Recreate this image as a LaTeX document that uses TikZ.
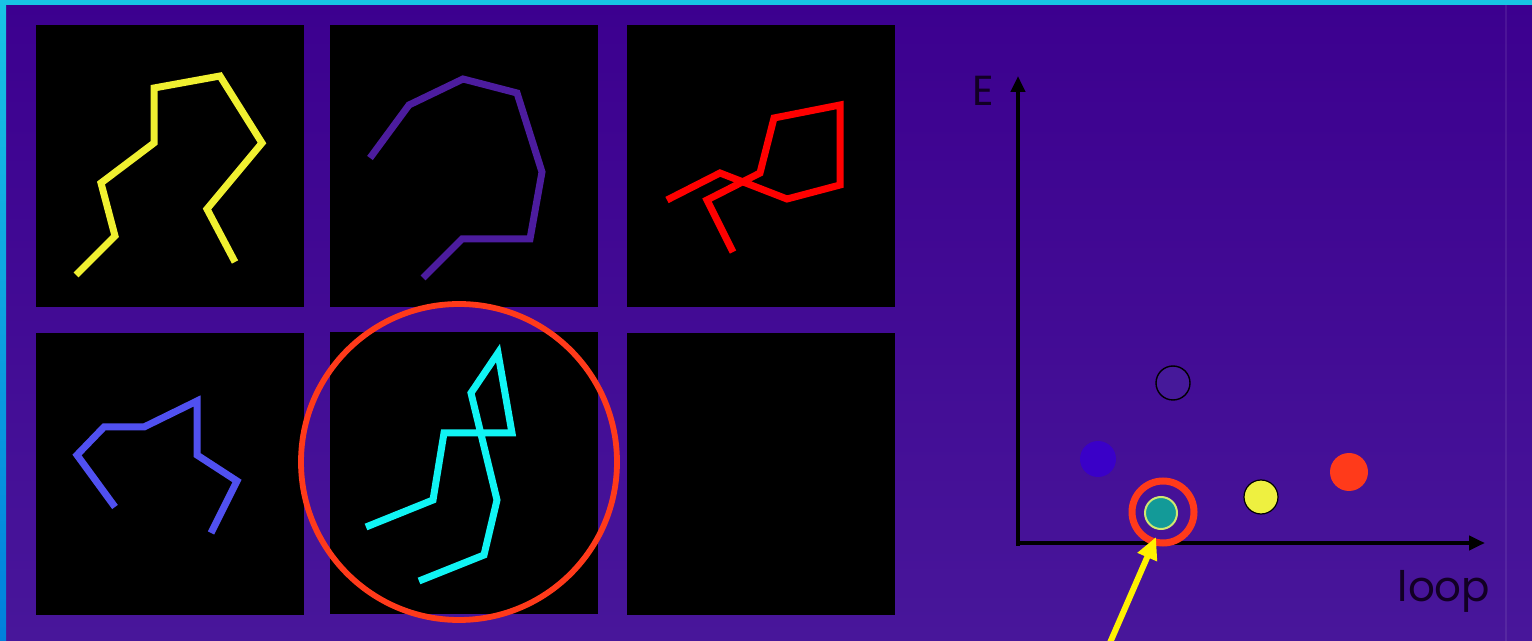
\documentclass[tikz,border=0pt]{standalone}
\usepackage{fontspec}
\newfontfamily\gfont{Poppins}
\usetikzlibrary{arrows.meta}
\definecolor{bgtop}{HTML}{3C008F}
\definecolor{bgbot}{HTML}{48169A}
\definecolor{cyanA}{HTML}{18C4E4}
\definecolor{blueA}{HTML}{0080DC}
\definecolor{syellow}{HTML}{F0F030}
\definecolor{spurple}{HTML}{4C1C9E}
\definecolor{sred}{HTML}{FF0000}
\definecolor{sblue}{HTML}{5050F0}
\definecolor{scyan}{HTML}{10F4F4}
\definecolor{ringred}{HTML}{FF3A1A}
\definecolor{dotblue}{HTML}{3A00C8}
\definecolor{dotyellow}{HTML}{EEF040}
\definecolor{dotteal}{HTML}{139A98}
\definecolor{tealrim}{HTML}{D0E870}
\definecolor{openfill}{HTML}{46199A}
\definecolor{textdark}{HTML}{120024}
\begin{document}
\begin{tikzpicture}[x=0.5pt,y=-0.5pt,
  panel/.style={fill=black,inner sep=0pt,minimum width=134pt,minimum height=141pt},
  strand/.style={line width=3.5pt},
  dot/.style={circle,inner sep=0pt},
  axisline/.style={line width=2.3pt,-{Triangle[length=8pt,width=7pt]}},
  label/.style={font=\gfont\fontsize{21}{24}\selectfont,text=textdark,inner sep=0pt}]
\useasboundingbox (0,0) rectangle (1532,641);
\shade[top color=bgtop,bottom color=bgbot] (0,0) rectangle (1532,641);
\shade[top color=cyanA,bottom color=blueA] (0,0) rectangle (6,641);
\fill[cyanA] (0,0) rectangle (1532,5);
\draw[line width=1pt,color=white,opacity=0.08] (1506,5) -- (1506,641);
% panels
\node[panel] (p1) at (169.5,166) {};
\node[panel] (p2) at (464,166.5) {};
\node[panel] (p3) at (761,166) {};
\node[panel] (p4) at (169.5,474) {};
\node[panel] (p5) at (464,473) {};
\node[panel] (p6) at (761,474) {};
% strands
\draw[strand,syellow] (76,275) -- (115,236) -- (101,183) -- (154,143) -- (154,88) -- (220,76) -- (262,143) -- (207,209) -- (235,262);
\draw[strand,spurple] (370,158) -- (409,105) -- (463,79) -- (517,93) -- (542,172) -- (530,239) -- (462,239) -- (423,278);
\draw[strand,sred] (667,200) -- (720,173) -- (787,199) -- (840,185) -- (840,105) -- (774,118) -- (760,173) -- (707,200) -- (733,252);
\draw[strand,sblue] (115,507) -- (77,455) -- (104,427) -- (144,427) -- (197,401) -- (197,455) -- (237,481) -- (211,533);
\draw[strand,scyan] (366,527) -- (433,500) -- (444,433) -- (512,433) -- (498,353) -- (471,393) -- (497,500) -- (484,555) -- (419,581);
% big ring
\node[circle,draw=ringred,line width=2.9pt,inner sep=0pt,minimum size=158pt] (bigring) at (459,462) {};
% axes
\coordinate (O) at (1018,543);
\coordinate (ytop) at (1018,76);
\coordinate (xend) at (1485,543);
\draw[axisline] (1018,546) -- (ytop);
\draw[axisline] (1016,543) -- (xend);
\node[label] (E) at (983,91) {E};
\node[label] (loop) at (1444,591) {loop};
% dots
\node[dot,fill=openfill,draw=black,line width=0.7pt,minimum size=17pt] (open) at (1173,383) {};
\node[dot,fill=dotblue,minimum size=18pt] (bdot) at (1098,459) {};
\node[dot,fill=ringred,minimum size=19pt] (rdot) at (1349,472) {};
\node[dot,fill=dotyellow,draw=black,line width=0.6pt,minimum size=17pt] (ydot) at (1261,497) {};
\node[dot,fill=dotteal,draw=tealrim,line width=1pt,minimum size=16pt] (tdot) at (1161,513) {};
\node[dot,draw=ringred,line width=3.5pt,minimum size=31pt] (ring) at (1163,512) {};
% yellow arrow
\coordinate (ystart) at (1109,645);
\coordinate (ytip) at (1156,537);
\draw[yellow,line width=3pt,-{Triangle[length=11pt,width=10pt]}] (ystart) -- (ytip);
\end{tikzpicture}
\end{document}
